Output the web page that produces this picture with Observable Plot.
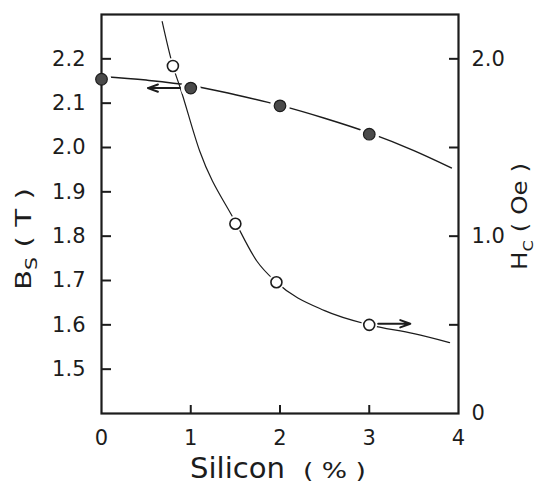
<!DOCTYPE html>
<html><head><meta charset="utf-8">
<script src="https://cdn.jsdelivr.net/npm/d3@7"></script>
<script src="https://cdn.jsdelivr.net/npm/@observablehq/plot@0.6"></script>
<style>
html,body{margin:0;padding:0;background:#fff;}
#chart svg{display:block;}
</style>
</head><body><div id="chart"></div>
<script>
// Saturation flux density Bs (T) — filled circles
const bsSilicon = [0, 1, 2, 3];
const bsValues = [2.154, 2.134, 2.094, 2.030];
// Coercive force Hc (Oe) — open circles
const hcSilicon = [0.8, 1.5, 1.96, 3.0];
const hcValues = [1.96, 1.07, 0.74, 0.50];
// Fitted curves
const bsCurveX = [0, 0.5, 1, 1.5, 2, 2.5, 3, 3.5, 3.92];
const bsCurveY = [2.160, 2.152, 2.140, 2.119, 2.095, 2.066, 2.033, 1.993, 1.954];
const hcCurveX = [0.68, 0.8, 0.88, 1.1, 1.5, 1.74, 1.96, 2.5, 3.0, 3.5, 3.9];
const hcCurveY = [2.21, 1.96, 1.84, 1.48, 1.08, 0.86, 0.74, 0.58, 0.50, 0.45, 0.40];
// Axis indicator arrows
const arrowX1 = [0.88, 3.10];
const arrowX2 = [0.52, 3.46];
const arrowY = [2.134, 0.506];
const arrowSeries = ["Bs", "Hc"];
// Axes
const bsDomain = [1.4, 2.3];
const hcDomain = [0, 2.25];
const siliconDomain = [0, 4];
const bsTicks = [1.5, 1.6, 1.7, 1.8, 1.9, 2.0, 2.1, 2.2];
const hcTicks = [0.5, 1.0, 1.5, 2.0];
const hcLabelTicks = [0, 1.0, 2.0];
const siliconTicks = [0, 1, 2, 3, 4];
const siliconInnerTicks = [1, 2, 3];

const toBs = h => bsDomain[0] + (h - hcDomain[0]) * (bsDomain[1] - bsDomain[0]) / (hcDomain[1] - hcDomain[0]);
const toHc = b => hcDomain[0] + (b - bsDomain[0]) * (hcDomain[1] - hcDomain[0]) / (bsDomain[1] - bsDomain[0]);

const bsPts = bsSilicon.map((x, i) => ({x, y: bsValues[i]}));
const hcPts = hcSilicon.map((x, i) => ({x, y: toBs(hcValues[i])}));
const bsCurve = bsCurveX.map((x, i) => ({x, y: bsCurveY[i]}));
const hcCurve = hcCurveX.map((x, i) => ({x, y: toBs(hcCurveY[i])}));
const arrows = arrowX1.map((x1, i) => ({x1, x2: arrowX2[i], y: arrowSeries[i] === "Bs" ? arrowY[i] : toBs(arrowY[i])}));

const INK = "#1c1c1c";
const FONT = "DejaVu Sans";
const W = 549, H = 484, ML = 101, MR = 91, MT = 14, MB = 71;

const chart = Plot.plot({
  width: W, height: H,
  marginLeft: ML, marginRight: MR, marginTop: MT, marginBottom: MB,
  style: {fontFamily: FONT, color: INK, background: "#fff"},
  x: {domain: siliconDomain},
  y: {domain: bsDomain},
  marks: [
    Plot.line(bsCurve, {x: "x", y: "y", curve: "monotone-x", stroke: INK, strokeWidth: 1.5}),
    Plot.line(hcCurve, {x: "x", y: "y", curve: "monotone-x", stroke: INK, strokeWidth: 1.2}),
    Plot.dot(bsPts, {x: "x", y: "y", r: 10, fill: "#fff", stroke: "none"}),
    Plot.dot(hcPts, {x: "x", y: "y", r: 8, fill: "#fff", stroke: "none"}),
    Plot.arrow(arrows, {x1: "x1", x2: "x2", y1: "y", y2: "y", stroke: INK, strokeWidth: 2, headLength: 8, headAngle: 40}),
    Plot.frame({stroke: INK, strokeWidth: 2.2}),
    // inward tick marks
    Plot.axisY(bsTicks, {anchor: "left", tickSize: -10, stroke: INK, strokeWidth: 2, tickFormat: () => "", label: null}),
    Plot.axisY(hcTicks.map(toBs), {anchor: "right", tickSize: -10, stroke: INK, strokeWidth: 2, tickFormat: () => "", label: null}),
    Plot.axisX(siliconInnerTicks, {anchor: "bottom", tickSize: -8, stroke: INK, strokeWidth: 2, tickFormat: () => "", label: null}),
    // tick labels
    Plot.axisY(bsTicks, {anchor: "left", tickSize: 0, tickPadding: 16, fontSize: 21, tickFormat: d3.format(".1f"), label: null}),
    Plot.axisY(hcLabelTicks.map(toBs), {anchor: "right", tickSize: 0, tickPadding: 13, fontSize: 21,
      tickFormat: d => { const h = toHc(d); return Math.abs(h) < 1e-6 ? "0" : h.toFixed(1); }, label: null}),
    Plot.axisX(siliconTicks, {anchor: "bottom", tickSize: 0, tickPadding: 17, fontSize: 21, label: null}),
    Plot.dot(bsPts, {x: "x", y: "y", r: 5.8, fill: "#4a4a4a", stroke: INK, strokeWidth: 1.2}),
    Plot.dot(hcPts, {x: "x", y: "y", r: 5.5, fill: "#fff", stroke: INK, strokeWidth: 1.6})
  ]
});
document.getElementById("chart").append(chart);

const svg = d3.select(chart);
// Left axis title: B_S ( T )
svg.append("text")
  .attr("transform", "translate(31,290) rotate(-90)")
  .attr("text-anchor", "start")
  .attr("font-family", FONT).attr("font-size", 21.5).attr("fill", INK)
  .attr("textLength", 102).attr("lengthAdjust", "spacingAndGlyphs")
  .call(t => {
    t.append("tspan").text("B");
    t.append("tspan").attr("font-size", 15).attr("dy", 6).text("S");
    t.append("tspan").attr("dy", -6).text(" ( T )");
  });
// Right axis title: H_C ( Oe )
svg.append("text")
  .attr("transform", "translate(527,270) rotate(-90)")
  .attr("text-anchor", "start")
  .attr("font-family", FONT).attr("font-size", 21).attr("fill", INK)
  .attr("textLength", 107).attr("lengthAdjust", "spacingAndGlyphs")
  .call(t => {
    t.append("tspan").text("H");
    t.append("tspan").attr("font-size", 14).attr("dy", 6).text("C");
    t.append("tspan").attr("dy", -6).text(" ( Oe )");
  });
// Bottom axis title: Silicon (%)
svg.append("text")
  .attr("x", 190).attr("y", 478)
  .attr("text-anchor", "start")
  .attr("font-family", FONT).attr("font-size", 29).attr("fill", INK)
  .attr("textLength", 95).attr("lengthAdjust", "spacingAndGlyphs")
  .text("Silicon");
svg.append("text")
  .attr("x", 303).attr("y", 478)
  .attr("text-anchor", "start")
  .attr("font-family", FONT).attr("font-size", 22).attr("fill", INK)
  .attr("textLength", 63).attr("lengthAdjust", "spacingAndGlyphs")
  .text("( % )");
</script>
</body></html>
